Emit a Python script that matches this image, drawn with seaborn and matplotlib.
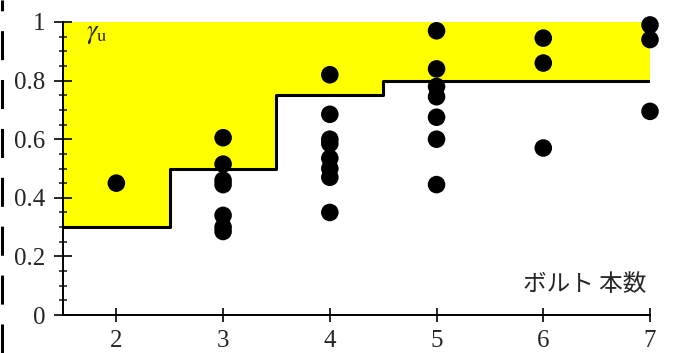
import matplotlib
matplotlib.use("Agg")
import matplotlib.pyplot as plt
from matplotlib.lines import Line2D
from matplotlib.ticker import MultipleLocator
import seaborn as sns
import pandas as pd

# Measured ratios grouped by number of bolts
bolts = [2,
         3, 3, 3, 3, 3, 3, 3,
         4, 4, 4, 4, 4, 4, 4, 4,
         5, 5, 5, 5, 5, 5, 5,
         6, 6, 6,
         7, 7, 7]
gamma = [0.45,
         0.605, 0.515, 0.46, 0.445, 0.34, 0.30, 0.285,
         0.82, 0.685, 0.60, 0.585, 0.535, 0.50, 0.47, 0.35,
         0.97, 0.84, 0.78, 0.745, 0.675, 0.60, 0.445,
         0.945, 0.86, 0.57,
         0.99, 0.94, 0.695]

# Lower limit of gamma_u as a step function of bolt count
limit_x = [1.5, 2.5, 3.5, 4.5, 7.0]
limit_y = [0.3, 0.5, 0.75, 0.8, 0.8]

x_ticks = [2, 3, 4, 5, 6, 7]
y_ticks = [0, 0.2, 0.4, 0.6, 0.8, 1]
y_tick_labels = ["0", "0.2", "0.4", "0.6", "0.8", "1"]

sns.set_style("white")
plt.rcParams["font.family"] = ["Liberation Serif", "DejaVu Serif"]
plt.rcParams["mathtext.fontset"] = "stix"

fig = plt.figure(figsize=(6.74, 3.53), dpi=100)
ax = fig.add_axes([63 / 674, 1 - 315 / 353, (650 - 63) / 674, (315 - 22) / 353])

pts = pd.DataFrame({"bolts": bolts, "gamma": gamma})
lim = pd.DataFrame({"x": limit_x, "y": limit_y})

# Shaded region above the limit
ax.fill_between(limit_x, limit_y, 1.0, step="post", color="#ffff00", lw=0, zorder=0)
sns.lineplot(data=lim, x="x", y="y", drawstyle="steps-post", color="black",
             lw=2.2, ax=ax, zorder=2)
sns.scatterplot(data=pts, x="bolts", y="gamma", color="black", s=160,
                edgecolor="none", ax=ax, zorder=3, clip_on=False)

ax.set_xlim(1.5, 7.0)
ax.set_ylim(0, 1)
ax.set_xticks(x_ticks)
ax.set_yticks(y_ticks)
ax.set_yticklabels(y_tick_labels)
ax.yaxis.set_minor_locator(MultipleLocator(0.05))
ax.set_xlabel("")
ax.set_ylabel("")

for side in ["top", "right"]:
    ax.spines[side].set_visible(False)
for side in ["left", "bottom"]:
    ax.spines[side].set_linewidth(1.4)
    ax.spines[side].set_color("black")

ax.tick_params(axis="y", which="major", direction="inout", length=13, width=1.4,
               labelsize=18, pad=6, left=True)
ax.tick_params(axis="y", which="minor", direction="inout", length=5.5, width=1.2, left=True)
ax.tick_params(axis="x", which="major", direction="inout", length=10, width=1.4,
               labelsize=18, pad=6, bottom=True)

ax.text(1.72, 0.955, r"$\gamma_{\rm u}$", fontsize=19, ha="left", va="center")
ax.text(6.39, 0.105, "ボルト 本数", fontsize=17, ha="center", va="center",
        family=["Noto Sans CJK JP", "DejaVu Sans"])

# Dashed rule along the left edge of the figure
fig.add_artist(Line2D([1.5 / 674, 1.5 / 674], [0, 1], transform=fig.transFigure,
                      color="black", lw=2.2, dashes=(9.5, 6.5)))

fig.savefig("out.png", dpi=100)
